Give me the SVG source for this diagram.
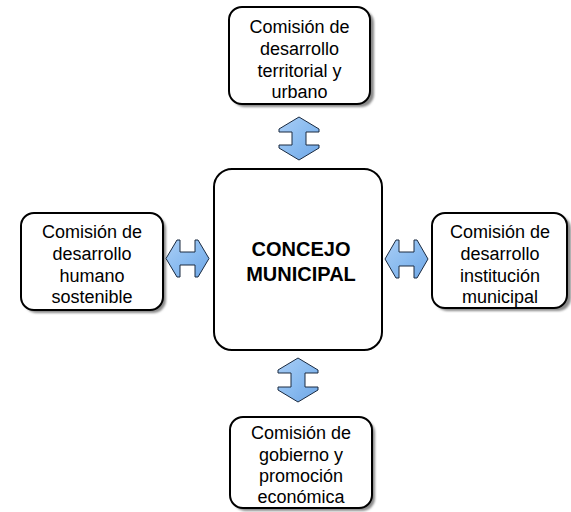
<svg xmlns="http://www.w3.org/2000/svg" width="571" height="512" viewBox="0 0 571 512">
<defs>
<linearGradient id="gv" x1="0" y1="0" x2="1" y2="1">
<stop offset="0" stop-color="#a9cdf5"/>
<stop offset="0.5" stop-color="#8bbcf0"/>
<stop offset="1" stop-color="#6ea6e6"/>
</linearGradient>
<filter id="sh" x="-10%" y="-10%" width="130%" height="130%">
<feGaussianBlur stdDeviation="1"/>
</filter>
</defs>
<style>
.box{fill:#fff;stroke:#000;stroke-width:2}
.shadow{fill:#8a8a8a;filter:url(#sh)}
.t{font-family:"Liberation Sans",Arial,sans-serif;font-size:18px;fill:#000;text-anchor:middle}
.tb{font-family:"Liberation Sans",Arial,sans-serif;font-size:20px;font-weight:bold;fill:#000;text-anchor:middle}
.arr{fill:url(#gv);stroke:#1a2a40;stroke-width:1;stroke-linejoin:miter}
</style>
<rect width="571" height="512" fill="#fff"/>

<g id="top">
<rect class="shadow" x="232" y="10" width="142" height="97" rx="13"/>
<rect class="box" x="229" y="7" width="141" height="97" rx="13"/>
<text class="t" x="299.5" y="33">Comisión de</text>
<text class="t" x="299.5" y="55">desarrollo</text>
<text class="t" x="299.5" y="76.5">territorial y</text>
<text class="t" x="299.5" y="97.5">urbano</text>
</g>

<g id="left">
<rect class="shadow" x="24" y="216" width="142" height="97" rx="13"/>
<rect class="box" x="21" y="213" width="142" height="97" rx="13"/>
<text class="t" x="92" y="238">Comisión de</text>
<text class="t" x="92" y="260">desarrollo</text>
<text class="t" x="92" y="281.5">humano</text>
<text class="t" x="92" y="302.5">sostenible</text>
</g>

<g id="right">
<rect class="shadow" x="435" y="216" width="136" height="95" rx="13"/>
<rect class="box" x="432" y="213" width="135" height="95" rx="13"/>
<text class="t" x="500" y="238">Comisión de</text>
<text class="t" x="500" y="260">desarrollo</text>
<text class="t" x="500" y="281.5">institución</text>
<text class="t" x="500" y="302.5">municipal</text>
</g>

<g id="bottom">
<rect class="shadow" x="233" y="420" width="142" height="91" rx="13"/>
<rect class="box" x="230" y="417" width="142" height="91" rx="13"/>
<text class="t" x="301" y="439">Comisión de</text>
<text class="t" x="301" y="461">gobierno y</text>
<text class="t" x="301" y="482">promoción</text>
<text class="t" x="301" y="503">económica</text>
</g>

<g id="center">
<rect class="box" x="214" y="169" width="168" height="181" rx="18"/>
<text class="tb" x="301" y="256">CONCEJO</text>
<text class="tb" x="301" y="281">MUNICIPAL</text>
</g>

<g id="connectors">
<path class="arr" d="M299,117 L319,129 L319,132 L306,132 L306,145 L319,145 L319,148 L299,160 L279,148 L279,145 L292,145 L292,132 L279,132 L279,129 Z"/>
<path class="arr" d="M298,358 L318,370 L318,373 L305,373 L305,387 L318,387 L318,390 L298,402 L278,390 L278,387 L291,387 L291,373 L278,373 L278,370 Z"/>
<path class="arr" d="M166,258.5 L177,240 L180,240 L180,252 L195,252 L195,240 L198,240 L209,258.5 L198,277 L195,277 L195,265 L180,265 L180,277 L177,277 Z"/>
<path class="arr" d="M385,259 L396,240 L399,240 L399,252 L414,252 L414,240 L417,240 L428,259 L417,278 L414,278 L414,266 L399,266 L399,278 L396,278 Z"/>
</g>
</svg>
